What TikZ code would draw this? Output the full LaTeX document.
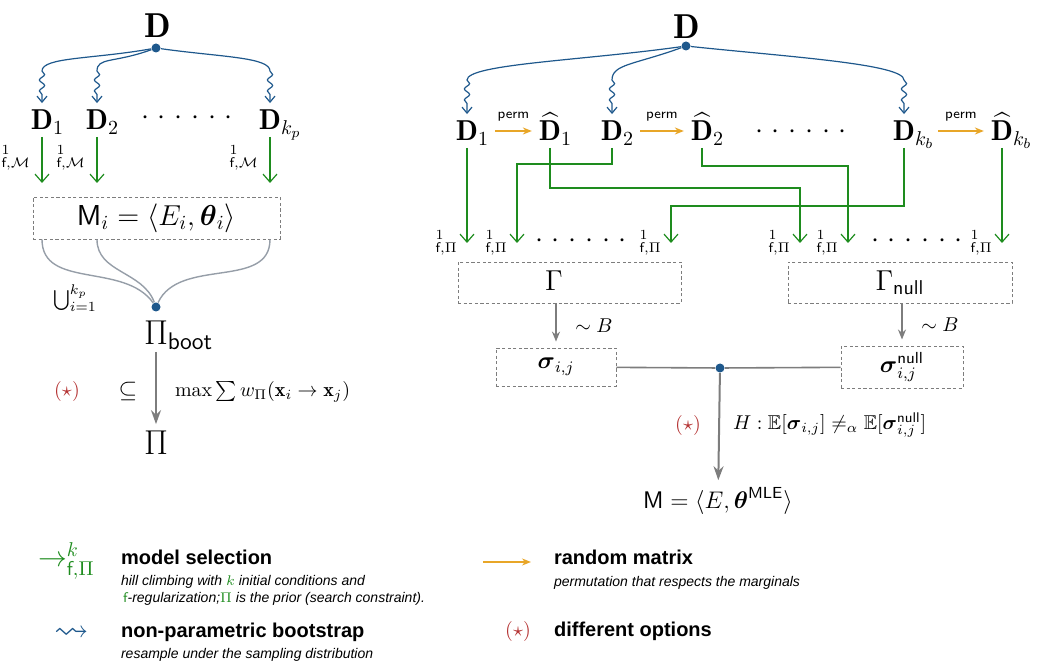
\documentclass[tikz,border=0pt]{standalone}
\usepackage{amsmath,amssymb}
\usepackage{fontspec}
\newfontfamily\legendfont{Liberation Sans}
\usetikzlibrary{arrows.meta,calc,decorations.pathmorphing}

\definecolor{bootblue}{RGB}{30,88,140}
\definecolor{selgreen}{RGB}{30,140,30}
\definecolor{permorange}{RGB}{232,166,40}
\definecolor{flowgray}{RGB}{125,125,125}
\definecolor{mergegray}{RGB}{150,158,168}
\definecolor{optred}{RGB}{180,50,50}

\newcommand{\lapsub}[1]{\smash{\rlap{$_{#1}$}}}
\newcommand{\Dhat}{\vphantom{\mathbf{D}}\smash{\widehat{\mathbf{D}}}}
\newcommand{\sixdots}{${\cdot}\mkern5.5mu{\cdot}\mkern5.5mu{\cdot}\mkern5.5mu{\cdot}\mkern5.5mu{\cdot}\mkern5.5mu{\cdot}$}

\begin{document}
\begin{tikzpicture}[x=0.5pt,y=0.5pt,
    hub/.style={circle,fill=bootblue,inner sep=0pt,minimum size=4.5pt},
    dbox/.style={draw=flowgray,thin,dash pattern=on 1.6pt off 1.2pt},
    boot/.style={draw=bootblue,semithick,-{Straight Barb[length=3pt,width=5pt]},
      decoration={snake,amplitude=1.3pt,segment length=5.5pt,post length=3pt}},
    sel/.style={draw=selgreen,semithick,-{Straight Barb[length=4pt,width=7pt]}},
    perm/.style={draw=permorange,line width=0.8pt,-{Stealth[length=4.5pt,width=3.5pt]}},
    flow/.style={draw=flowgray,line width=0.7pt,-{Stealth[length=5pt,width=4pt]},shorten >=3pt},
    flowbig/.style={draw=flowgray,line width=1pt,-{Stealth[length=7pt,width=5pt]}},
    merge/.style={draw=mergegray,line width=0.7pt}]
  \useasboundingbox (0,0) rectangle (1040,-668);

  % bootstrap of the prior
  \node[font=\LARGE] (DL) at (158,-26) {$\mathbf{D}$};
  \node[hub] (hubL) at (156,-48) {};
  \begin{scope}[every node/.style={font=\Large}]
  \node (D1L) at (42,-120) {$\mathbf{D}\lapsub{1}$};
  \node (D2L) at (97,-120) {$\mathbf{D}\lapsub{2}$};
  \node (DkL) at (270,-120) {$\mathbf{D}\lapsub{k_p}$};
  \end{scope}
  \node[font=\Large,anchor=base] (dotsL) at (187,-125) {\sixdots};
  \node[dbox,font=\Large,minimum width=123.5pt,minimum height=21pt] (boxM) at (156.5,-218)
    {$\mathsf{M}_i = \langle E_i,\boldsymbol{\theta}_i\rangle$};
  \node[hub] (hubU) at (156,-307) {};
  \node at (75,-298) (union) {$\bigcup_{i=1}^{k_p}$};
  \node[font=\LARGE] (PiB) at (156,-333) {$\Pi\lapsub{\mathsf{boot}}$};
  \node[font=\LARGE] (Pi) at (156,-443) {$\Pi$};
  \node[text=optred] (optL) at (67,-392) {$(\star)$};
  \node[font=\large] (subs) at (128,-392) {$\subseteq$};
  \node[anchor=west] (maxw) at (168,-392) {$\max\sum w_\Pi(\mathbf{x}_i\rightarrow\mathbf{x}_j)$};

  \draw[boot] (hubL) to[out=190,in=90,out distance=30pt,in distance=7pt] ($(D1L.north)+(0,16pt)$) decorate {-- (D1L.north)};
  \draw[boot] (hubL) to[out=200,in=90,out distance=20pt,in distance=7pt] ($(D2L.north)+(0,16pt)$) decorate {-- (D2L.north)};
  \draw[boot] (hubL) to[out=-8,in=90,out distance=30pt,in distance=7pt] ($(DkL.north)+(0,16pt)$) decorate {-- (DkL.north)};

  \coordinate (m1) at (D1L |- 0,-183);
  \coordinate (m2) at (D2L |- 0,-183);
  \coordinate (m3) at (DkL |- 0,-183);
  \draw[sel] (D1L) -- (m1) node[pos=0.45,left=2pt] {$^{1}_{\mathsf{f},\mathcal{M}}$};
  \draw[sel] (D2L) -- (m2) node[pos=0.45,left=2pt] {$^{1}_{\mathsf{f},\mathcal{M}}$};
  \draw[sel] (DkL) -- (m3) node[pos=0.45,left=2pt] {$^{1}_{\mathsf{f},\mathcal{M}}$};

  \draw[merge] (boxM.south -| D1L) to[out=-90,in=125] (hubU);
  \draw[merge] (boxM.south -| D2L) to[out=-90,in=110] (hubU);
  \draw[merge] (boxM.south -| DkL) to[out=-90,in=65] (hubU);
  \draw[flowbig] (PiB) -- (Pi);

  % permutation test
  \node[font=\LARGE] (DR) at (687,-27) {$\mathbf{D}$};
  \node[hub] (hubR) at (686,-46) {};
  \begin{scope}[every node/.style={font=\Large}]
  \node (D1R) at (467,-131) {$\mathbf{D}\lapsub{1}$};
  \node (Dh1R) at (550,-131) {$\Dhat\lapsub{1}$};
  \node (D2R) at (612,-131) {$\mathbf{D}\lapsub{2}$};
  \node (Dh2R) at (702,-131) {$\Dhat\lapsub{2}$};
  \node (DkR) at (904,-131) {$\mathbf{D}\lapsub{k_b}$};
  \node (DhkR) at (1002,-131) {$\Dhat\lapsub{k_b}$};
  \end{scope}
  \node[font=\Large,anchor=base] (dotsR) at (801,-139) {\sixdots};

  \draw[boot] (hubR) to[out=188,in=90,out distance=50pt,in distance=8pt] ($(D1R.north)+(0,17pt)$) decorate {-- (D1R.north)};
  \draw[boot] (hubR) to[out=200,in=90,out distance=25pt,in distance=8pt] ($(D2R.north)+(0,17pt)$) decorate {-- (D2R.north)};
  \draw[boot] (hubR) to[out=-6,in=90,out distance=50pt,in distance=8pt] ($(DkR.north)+(0,17pt)$) decorate {-- (DkR.north)};

  \begin{scope}[every node/.style={font=\scriptsize\sffamily,above=1pt}]
  \draw[perm] ([xshift=5pt]D1R.east) -- (Dh1R) node[midway] {perm};
  \draw[perm] ([xshift=5pt]D2R.east) -- (Dh2R) node[midway] {perm};
  \draw[perm] ([xshift=8pt]DkR.east) -- (DhkR) node[midway] {perm};
  \end{scope}

  \node[dbox,font=\Large,minimum width=111.5pt,minimum height=20.5pt] (Gam) at (569.5,-282.5)
    {$\Gamma\phantom{_{\mathsf{null}}}$};
  \node[dbox,font=\Large,minimum width=112pt,minimum height=20.5pt] (GamN) at (900,-282.5)
    {$\Gamma_{\mathsf{null}}$};
  \node[font=\Large,anchor=base] (dotsG) at (581,-248) {\sixdots};
  \node[font=\Large,anchor=base] (dotsGN) at (917,-248) {\sixdots};

  \coordinate (g1) at (D1R |- 0,-243);
  \coordinate (g2) at (517,-243);
  \coordinate (g3) at (671,-243);
  \coordinate (g4) at (800,-243);
  \coordinate (g5) at (848,-243);
  \coordinate (g6) at (DhkR |- 0,-243);
  \begin{scope}[every node/.style={left=1pt}]
  \draw[sel] (D1R) -- (g1) node[at end] {$^{1}_{\mathsf{f},\Pi}$};
  \draw[sel] (D2R.south) -- ++(0,-16) -| (g2) node[at end] {$^{1}_{\mathsf{f},\Pi}$};
  \draw[sel] (DkR.south) -- ++(0,-58) -| (g3) node[at end] {$^{1}_{\mathsf{f},\Pi}$};
  \draw[sel] (Dh1R.south) -- ++(0,-40) -| (g4) node[at end] {$^{1}_{\mathsf{f},\Pi}$};
  \draw[sel] (Dh2R.south) -- ++(0,-18) -| (g5) node[at end] {$^{1}_{\mathsf{f},\Pi}$};
  \draw[sel] (DhkR) -- (g6) node[at end] {$^{1}_{\mathsf{f},\Pi}$};
  \end{scope}

  \node[dbox,font=\large,minimum width=60pt,minimum height=19pt] (sig) at (556,-367)
    {$\boldsymbol{\sigma}_{i,j}$};
  \node[dbox,font=\large,minimum width=61pt,minimum height=19pt] (sigN) at (902,-367)
    {$\boldsymbol{\sigma}^{\mathsf{null}}_{i,j}$};
  \node[hub] (hubS) at (720,-368) {};
  \node[font=\large] (Mfin) at (718,-501) {$\mathsf{M} = \langle E,\boldsymbol{\theta}^{\mathsf{MLE}}\rangle$};
  \node[text=optred] (optR) at (688,-425) {$(\star)$};
  \node[anchor=west] (hyp) at (726,-425)
    {$H:\mathbb{E}[\boldsymbol{\sigma}_{i,j}]\neq_\alpha\mathbb{E}[\boldsymbol{\sigma}^{\mathsf{null}}_{i,j}]$};

  \draw[flow] (Gam.south -| sig) -- (sig) node[midway,right=6pt] {$\sim B$};
  \draw[flow] (GamN.south -| sigN) -- (sigN) node[midway,right=6pt] {$\sim B$};
  \begin{scope}[every edge/.style={draw=flowgray,line width=0.8pt}]
  \path (sig) edge (hubS);
  \path (hubS) edge (sigN);
  \end{scope}
  \draw[flowbig] (hubS) -- (Mfin);

  % legend
  \node[font=\Large,text=selgreen,anchor=base west] (lgSel) at (31,-567) {$\rightarrow^{k}_{\mathsf{f},\Pi}$};
  \node[font=\LARGE,text=bootblue] (lgBoot) at (72,-634) {$\leadsto$};
  \coordinate (lgPa) at (483,-562);
  \coordinate (lgPb) at (531,-562);
  \draw[perm] (lgPa) -- (lgPb);
  \node[text=optred] (lgOpt) at (518,-631) {$(\star)$};
  \begin{scope}[every node/.style={anchor=base west,font=\legendfont\scriptsize\itshape}]
  \node[font=\legendfont\bfseries] (lgSelT) at (114,-565) {model selection};
  \node (lgSelA) at (114,-585) {hill climbing with {\color{selgreen}$k$} initial conditions and};
  \node (lgSelB) at (116,-603) {{\color{selgreen}$\mathsf{f}$}-regularization;{\color{selgreen}$\Pi$} is the prior (search constraint).};
  \node[font=\legendfont\bfseries] (lgBootT) at (114,-637) {non-parametric bootstrap};
  \node (lgBootA) at (114,-658) {resample under the sampling distribution};
  \node[font=\legendfont\bfseries] (lgPermT) at (547,-565) {random matrix};
  \node (lgPermA) at (547,-587) {permutation that respects the marginals};
  \node[font=\legendfont\bfseries] (lgOptT) at (547,-636) {different options};
  \end{scope}
\end{tikzpicture}
\end{document}
